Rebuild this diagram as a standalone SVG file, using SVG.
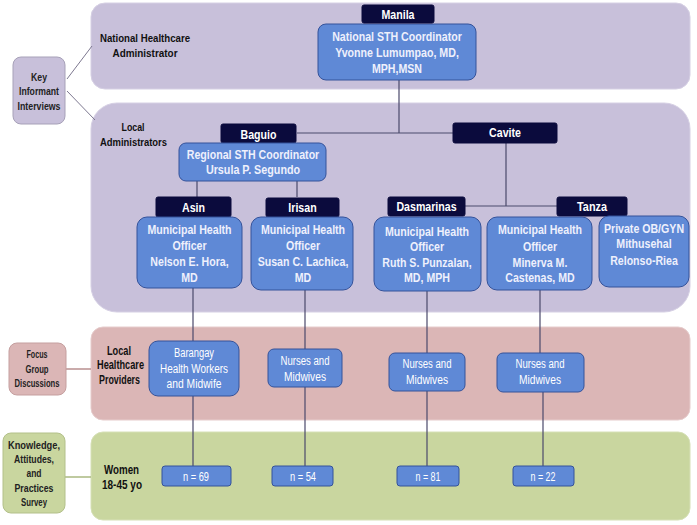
<svg xmlns="http://www.w3.org/2000/svg" width="697" height="525" viewBox="0 0 697 525">
<style>
.pl{fill:#c8c0da;stroke:#d6d0e4;stroke-width:1}
.pp{fill:#dbb6b6;stroke:#e6cccc;stroke-width:1}
.pg{fill:#c9d69f;stroke:#d6e0b6;stroke-width:1}
.bx{fill:#5f89d6;stroke:#34529a;stroke-width:1}
.lb{fill:#0b0b3d;stroke:#0b0b3d;stroke-width:1}
.c{fill:none;stroke:#4b4a6c;stroke-width:1.2}
.t{font-family:"Liberation Sans",Arial,sans-serif;font-weight:bold;font-size:12.5px;fill:#eef0fc;text-anchor:middle}
.tl{font-family:"Liberation Sans",Arial,sans-serif;font-weight:bold;font-size:12.5px;fill:#ffffff;text-anchor:middle}
.k{font-family:"Liberation Sans",Arial,sans-serif;font-weight:bold;font-size:11.5px;fill:#111;text-anchor:middle}
.kb{font-family:"Liberation Sans",Arial,sans-serif;font-weight:bold;font-size:13.5px;fill:#111;text-anchor:middle}
.s{font-family:"Liberation Sans",Arial,sans-serif;font-weight:bold;font-size:11.5px;fill:#222;text-anchor:middle}
.w{font-family:"Liberation Sans",Arial,sans-serif;font-size:12.5px;fill:#ffffff;text-anchor:middle}
</style>

<!-- panels -->
<g id="panel-national"><rect class="pl" x="91" y="3" width="599" height="86" rx="14"/>
<text class="k" x="145" y="42" textLength="90" lengthAdjust="spacingAndGlyphs">National Healthcare</text>
<text class="k" x="145" y="57" textLength="65" lengthAdjust="spacingAndGlyphs">Administrator</text></g>
<g id="panel-local"><rect class="pl" x="91" y="103" width="599" height="209" rx="26"/>
<text class="k" x="133" y="131" textLength="23" lengthAdjust="spacingAndGlyphs">Local</text>
<text class="k" x="133.5" y="146" textLength="67" lengthAdjust="spacingAndGlyphs">Administrators</text></g>
<g id="panel-providers"><rect class="pp" x="91" y="327" width="599" height="93" rx="12"/>
<text class="kb" x="119" y="354.5" textLength="24" lengthAdjust="spacingAndGlyphs">Local</text>
<text class="kb" x="120.5" y="368.5" textLength="47" lengthAdjust="spacingAndGlyphs">Healthcare</text>
<text class="kb" x="119.5" y="383.5" textLength="41" lengthAdjust="spacingAndGlyphs">Providers</text></g>
<g id="panel-women"><rect class="pg" x="91" y="432" width="599" height="88" rx="12"/>
<text class="kb" x="121.5" y="474" font-size="14" textLength="35" lengthAdjust="spacingAndGlyphs">Women</text>
<text class="kb" x="122" y="489" font-size="14" textLength="40" lengthAdjust="spacingAndGlyphs">18-45 yo</text></g>

<!-- connectors -->
<g id="connectors">
<line x1="67" y1="79" x2="92" y2="46" stroke="#7d7890" stroke-width="1"/>
<line x1="67" y1="91" x2="95" y2="120" stroke="#7d7890" stroke-width="1"/>
<line x1="66" y1="369" x2="91" y2="369" stroke="#b88f8f" stroke-width="1.5"/>
<line x1="65" y1="477" x2="91" y2="477" stroke="#aab980" stroke-width="1.5"/>
<path class="c" d="M399 80V133M297 133H453"/>
<path class="c" d="M197 181V197M297 181V197"/>
<path class="c" d="M506 143V206M465 206H557"/>
<path class="c" d="M193 288V341M193 396V466"/>
<path class="c" d="M305 290V349M305 387V466"/>
<path class="c" d="M427 291V353M427 391V466"/>
<path class="c" d="M540 290V353M543 392V466"/>
</g>

<!-- left method boxes -->
<g id="key-informant"><rect x="13" y="57" width="52" height="67" rx="8" fill="#c8c0da" stroke="#a7a1b8"/>
<text class="s" x="39" y="81" textLength="16" lengthAdjust="spacingAndGlyphs">Key</text>
<text class="s" x="39" y="95" textLength="40" lengthAdjust="spacingAndGlyphs">Informant</text>
<text class="s" x="39" y="110" textLength="43" lengthAdjust="spacingAndGlyphs">Interviews</text></g>
<g id="focus-group"><rect x="9" y="343" width="57" height="52" rx="8" fill="#dbb6b6" stroke="#c59f9f"/>
<text class="s" x="37" y="358" textLength="21" lengthAdjust="spacingAndGlyphs">Focus</text>
<text class="s" x="37" y="373" textLength="23" lengthAdjust="spacingAndGlyphs">Group</text>
<text class="s" x="37" y="387" textLength="45" lengthAdjust="spacingAndGlyphs">Discussions</text></g>
<g id="kap-survey"><rect x="3" y="433" width="62" height="80" rx="8" fill="#c9d69f" stroke="#b3c08a"/>
<text class="s" x="34" y="449" textLength="52" lengthAdjust="spacingAndGlyphs">Knowledge,</text>
<text class="s" x="34" y="462.5" textLength="40" lengthAdjust="spacingAndGlyphs">Attitudes,</text>
<text class="s" x="34" y="477" textLength="15" lengthAdjust="spacingAndGlyphs">and</text>
<text class="s" x="34" y="492" textLength="39" lengthAdjust="spacingAndGlyphs">Practices</text>
<text class="s" x="34" y="506" textLength="26" lengthAdjust="spacingAndGlyphs">Survey</text></g>

<!-- national -->
<g id="national-coordinator"><rect class="bx" x="318" y="24" width="158" height="56" rx="8"/>
<text class="t" x="397" y="41.4" textLength="129.6" lengthAdjust="spacingAndGlyphs">National STH Coordinator</text>
<text class="t" x="397" y="57.4" textLength="123.7" lengthAdjust="spacingAndGlyphs">Yvonne Lumumpao, MD,</text>
<text class="t" x="397" y="73.4" textLength="50.1" lengthAdjust="spacingAndGlyphs">MPH,MSN</text></g>
<g id="label-manila"><rect class="lb" x="362" y="5" width="72" height="18" rx="2"/>
<text class="tl" x="398" y="19.4" textLength="33" lengthAdjust="spacingAndGlyphs">Manila</text></g>

<!-- regional -->
<g id="label-baguio"><rect class="lb" x="221" y="124" width="75" height="19" rx="2"/>
<text class="tl" x="258.5" y="139.4" textLength="35.9" lengthAdjust="spacingAndGlyphs">Baguio</text></g>
<g id="regional-coordinator"><rect class="bx" x="179" y="143" width="147" height="38" rx="7"/>
<text class="t" x="253" y="159.4" textLength="132.5" lengthAdjust="spacingAndGlyphs">Regional STH Coordinator</text>
<text class="t" x="253" y="174.4" textLength="94.2" lengthAdjust="spacingAndGlyphs">Ursula P. Segundo</text></g>
<g id="label-cavite"><rect class="lb" x="453" y="123" width="104" height="20" rx="2"/>
<text class="tl" x="505" y="137.4" textLength="31.8" lengthAdjust="spacingAndGlyphs">Cavite</text></g>

<!-- municipal -->
<g id="label-asin"><rect class="lb" x="156" y="197" width="75" height="20" rx="2"/>
<text class="tl" x="193.5" y="212.4" textLength="23" lengthAdjust="spacingAndGlyphs">Asin</text></g>
<g id="mho-asin"><rect class="bx" x="137" y="217" width="105" height="71" rx="10"/>
<text class="t" x="189.5" y="234.4" textLength="84.2" lengthAdjust="spacingAndGlyphs">Municipal Health</text>
<text class="t" x="189.5" y="250.4" textLength="34.2" lengthAdjust="spacingAndGlyphs">Officer</text>
<text class="t" x="189.5" y="266.4" textLength="78.3" lengthAdjust="spacingAndGlyphs">Nelson E. Hora,</text>
<text class="t" x="189.5" y="282.4" textLength="16.5" lengthAdjust="spacingAndGlyphs">MD</text></g>
<g id="label-irisan"><rect class="lb" x="266" y="198" width="73" height="19" rx="2"/>
<text class="tl" x="302.5" y="212.4" textLength="28.3" lengthAdjust="spacingAndGlyphs">Irisan</text></g>
<g id="mho-irisan"><rect class="bx" x="251" y="217" width="102" height="73" rx="10"/>
<text class="t" x="303" y="234.4" textLength="84.2" lengthAdjust="spacingAndGlyphs">Municipal Health</text>
<text class="t" x="303" y="250.4" textLength="34.2" lengthAdjust="spacingAndGlyphs">Officer</text>
<text class="t" x="303" y="266.4" textLength="90.7" lengthAdjust="spacingAndGlyphs">Susan C. Lachica,</text>
<text class="t" x="303" y="282.4" textLength="16.5" lengthAdjust="spacingAndGlyphs">MD</text></g>
<g id="label-dasmarinas"><rect class="lb" x="388" y="197" width="77" height="19" rx="2"/>
<text class="tl" x="426.5" y="211.4" textLength="60.1" lengthAdjust="spacingAndGlyphs">Dasmarinas</text></g>
<g id="mho-dasmarinas"><rect class="bx" x="374" y="217" width="107" height="74" rx="10"/>
<text class="t" x="427" y="236.4" textLength="84.2" lengthAdjust="spacingAndGlyphs">Municipal Health</text>
<text class="t" x="427" y="251.4" textLength="34.2" lengthAdjust="spacingAndGlyphs">Officer</text>
<text class="t" x="427" y="267.4" textLength="89.5" lengthAdjust="spacingAndGlyphs">Ruth S. Punzalan,</text>
<text class="t" x="427" y="282.4" textLength="45.9" lengthAdjust="spacingAndGlyphs">MD, MPH</text></g>
<g id="label-tanza"><rect class="lb" x="557" y="197" width="70" height="19" rx="2"/>
<text class="tl" x="592" y="211.4" textLength="30" lengthAdjust="spacingAndGlyphs">Tanza</text></g>
<g id="mho-tanza"><rect class="bx" x="487" y="217" width="105" height="73" rx="10"/>
<text class="t" x="540" y="234.4" textLength="84.2" lengthAdjust="spacingAndGlyphs">Municipal Health</text>
<text class="t" x="540" y="251.4" textLength="34.2" lengthAdjust="spacingAndGlyphs">Officer</text>
<text class="t" x="540" y="267.4" textLength="54.8" lengthAdjust="spacingAndGlyphs">Minerva M.</text>
<text class="t" x="540" y="282.4" textLength="69.5" lengthAdjust="spacingAndGlyphs">Castenas, MD</text></g>
<g id="private-obgyn"><rect class="bx" x="599" y="216" width="90" height="71" rx="10"/>
<text class="t" x="644" y="233.4" textLength="80.1" lengthAdjust="spacingAndGlyphs">Private OB/GYN</text>
<text class="t" x="644" y="248.4" textLength="55.4" lengthAdjust="spacingAndGlyphs">Mithusehal</text>
<text class="t" x="644" y="265" textLength="67.7" lengthAdjust="spacingAndGlyphs">Relonso-Riea</text></g>

<!-- providers -->
<g id="barangay"><rect class="bx" x="149" y="341" width="90" height="55" rx="9"/>
<text class="w" x="194" y="357" textLength="40" lengthAdjust="spacingAndGlyphs">Barangay</text>
<text class="w" x="194" y="373" textLength="68" lengthAdjust="spacingAndGlyphs">Health Workers</text>
<text class="w" x="194" y="388" textLength="55" lengthAdjust="spacingAndGlyphs">and Midwife</text></g>
<g id="nurses-irisan"><rect class="bx" x="268" y="349" width="74" height="38" rx="6"/>
<text class="w" x="305" y="365" textLength="49" lengthAdjust="spacingAndGlyphs">Nurses and</text>
<text class="w" x="305" y="381" textLength="42" lengthAdjust="spacingAndGlyphs">Midwives</text></g>
<g id="nurses-dasmarinas"><rect class="bx" x="389" y="353" width="76" height="38" rx="6"/>
<text class="w" x="427" y="368" textLength="49" lengthAdjust="spacingAndGlyphs">Nurses and</text>
<text class="w" x="427" y="384" textLength="42" lengthAdjust="spacingAndGlyphs">Midwives</text></g>
<g id="nurses-tanza"><rect class="bx" x="497" y="353" width="87" height="39" rx="6"/>
<text class="w" x="540" y="368" textLength="49" lengthAdjust="spacingAndGlyphs">Nurses and</text>
<text class="w" x="540" y="384" textLength="42" lengthAdjust="spacingAndGlyphs">Midwives</text></g>

<!-- women samples -->
<g id="n-69"><rect class="bx" x="162" y="466" width="69" height="20" rx="3"/>
<text class="w" x="196" y="480.5" font-size="12" textLength="26" lengthAdjust="spacingAndGlyphs">n = 69</text></g>
<g id="n-54"><rect class="bx" x="272" y="466" width="61" height="20" rx="3"/>
<text class="w" x="303" y="480.5" font-size="12" textLength="26" lengthAdjust="spacingAndGlyphs">n = 54</text></g>
<g id="n-81"><rect class="bx" x="397" y="466" width="62" height="20" rx="3"/>
<text class="w" x="428" y="480.5" font-size="12" textLength="25" lengthAdjust="spacingAndGlyphs">n = 81</text></g>
<g id="n-22"><rect class="bx" x="513" y="466" width="61" height="20" rx="3"/>
<text class="w" x="543" y="480.5" font-size="12" textLength="25" lengthAdjust="spacingAndGlyphs">n = 22</text></g>
</svg>
